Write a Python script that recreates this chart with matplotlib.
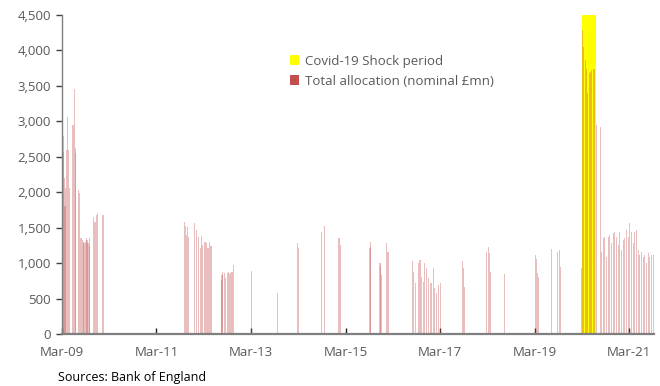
import matplotlib
matplotlib.use("Agg")
import matplotlib.pyplot as plt
import matplotlib.dates as mdates
from matplotlib.patches import Patch
from matplotlib.ticker import FuncFormatter
import pandas as pd

plt.rcParams['font.family'] = ['Open Sans', 'DejaVu Sans']

# weekly gilt purchase allocations (nominal £mn)
alloc_dates = [
    # QE1 2009
    '2009-03-09', '2009-03-14', '2009-03-19', '2009-03-24', '2009-03-28',
    '2009-04-05', '2009-04-13', '2009-04-19', '2009-04-26',
    '2009-05-25', '2009-06-02', '2009-06-10', '2009-06-14',
    '2009-07-03', '2009-07-14', '2009-07-26', '2009-08-03', '2009-08-11',
    '2009-08-18', '2009-08-26', '2009-09-03', '2009-09-10', '2009-09-18',
    '2009-09-26', '2009-10-03', '2009-11-03', '2009-11-11', '2009-11-19',
    '2009-11-27', '2010-01-12',
    # QE2 2011-12
    '2011-10-06', '2011-10-12', '2011-10-20', '2011-10-27', '2011-11-03',
    '2011-12-23', '2012-01-07', '2012-01-22', '2012-02-03', '2012-02-10',
    '2012-02-22', '2012-03-10', '2012-03-21', '2012-04-02', '2012-04-13',
    '2012-04-25',
    # QE3 2012
    '2012-07-12', '2012-07-19', '2012-07-26', '2012-08-09', '2012-08-16',
    '2012-08-30', '2012-09-06', '2012-09-13', '2012-09-20', '2012-10-04',
    '2012-10-11', '2012-10-18',
    # reinvestments
    '2013-03-05', '2013-09-20', '2014-02-24', '2014-03-03',
    '2014-08-28', '2014-09-17', '2015-01-09', '2015-01-24',
    '2015-08-30', '2015-09-06', '2015-09-13',
    '2015-11-22', '2015-11-29', '2015-12-06', '2016-01-08', '2016-01-23',
    # QE4 2016-17
    '2016-07-31', '2016-08-05', '2016-08-23', '2016-09-12', '2016-09-26',
    '2016-10-09', '2016-10-21', '2016-11-03', '2016-11-16', '2016-11-29',
    '2016-12-20', '2017-01-06', '2017-01-19', '2017-02-01', '2017-02-14',
    '2017-03-04',
    '2017-08-21', '2017-08-28', '2017-09-05',
    '2018-02-25', '2018-03-06', '2018-03-15', '2018-03-26', '2018-07-09',
    '2019-03-08', '2019-03-15', '2019-03-25', '2019-04-02', '2019-07-10',
    '2019-08-28', '2019-09-07', '2019-09-20',
    # Covid-19 QE5 and after
    '2020-02-28', '2020-03-05', '2020-03-15', '2020-03-25', '2020-04-05',
    '2020-04-15', '2020-04-25', '2020-05-06', '2020-05-16', '2020-05-26',
    '2020-06-06', '2020-06-22', '2020-07-22',
    '2020-07-30', '2020-08-12', '2020-08-25', '2020-09-07', '2020-09-20',
    '2020-10-02', '2020-10-15', '2020-10-28', '2020-11-10', '2020-11-23',
    '2020-12-05', '2020-12-18', '2020-12-31', '2021-01-13', '2021-01-26',
    '2021-02-08', '2021-02-21', '2021-03-06', '2021-03-19', '2021-03-31',
    '2021-04-13', '2021-04-26', '2021-05-09', '2021-05-22', '2021-06-04',
    '2021-06-17', '2021-06-30', '2021-07-13', '2021-07-26', '2021-08-07',
    '2021-08-20', '2021-09-02',
]
alloc_values = [
    2800, 2570, 2200, 1800, 2060,
    2590, 3060, 2600, 2060,
    2950, 3460, 2620, 2560,
    2030, 1985, 1350, 1320, 1300,
    1290, 1300, 1360, 1330, 1280,
    1240, 1350, 1650, 1580, 1680,
    1700, 1680,
    1584, 1523, 1396, 1513, 1368,
    1565, 1466, 1372, 1212, 1382,
    1255, 1302, 1283, 1212, 1302,
    1245,
    761, 832, 879, 860, 790,
    860, 879, 850, 860, 880,
    880, 973,
    888, 573, 1278, 1212,
    1443, 1523, 1349, 1255,
    1212, 1302, 1231,
    997, 959, 832, 1287, 1160,
    1030, 879, 725, 997, 1043,
    800, 737, 1006, 926, 785,
    725, 926, 645, 573, 691,
    714,
    1030, 926, 668,
    1160, 1231, 1137, 879, 846,
    1113, 1052, 865, 808, 1193,
    1160, 1184, 949,
    930, 4286, 4051, 3872, 3745,
    3394, 3675, 3698, 3722, 3732,
    3745, 2947, 2923,
    1160, 1349, 1372, 1090, 1372,
    1396, 1278, 1420, 1443, 1372,
    1255, 1443, 1184, 1325, 1349,
    1466, 1372, 1561, 1443, 1278,
    1443, 1466, 1184, 1114, 1160,
    1090, 1114, 997, 1137, 1090,
    1114, 1114,
]

covid_start = '2020-02-27'
covid_end = '2020-06-14'
covid_height = 4500

x_ticks = ['2009-03-01', '2011-03-01', '2013-03-01', '2015-03-01',
           '2017-03-01', '2019-03-01', '2021-03-01']
x_labels = ['Mar-09', 'Mar-11', 'Mar-13', 'Mar-15', 'Mar-17', 'Mar-19', 'Mar-21']

red = '#c0504d'
grey = '#595959'

fig = plt.figure(figsize=(6.6, 3.86), dpi=100)
ax = fig.add_axes([62 / 660, 1 - 334 / 386, 592 / 660, 319 / 386])

cs = pd.Timestamp(covid_start)
ce = pd.Timestamp(covid_end)
ax.bar(mdates.date2num(cs), covid_height, width=(ce - cs).days, align='edge',
       color='#ffff00', linewidth=0, zorder=1)

xd = mdates.date2num(pd.to_datetime(alloc_dates))
ax.bar(xd, alloc_values, width=8.2, color=red, alpha=0.36, linewidth=0,
       antialiased=False, zorder=2)

ax.set_xlim(mdates.date2num(pd.Timestamp('2009-03-01')),
            mdates.date2num(pd.Timestamp('2021-09-08')))
ax.set_ylim(0, 4500)
ax.set_yticks(range(0, 4501, 500))
ax.yaxis.set_major_formatter(FuncFormatter(lambda v, p: f'{int(v):,}'))
ax.set_xticks(mdates.date2num(pd.to_datetime(x_ticks)))
ax.set_xticklabels(x_labels)

for s in ['top', 'right']:
    ax.spines[s].set_visible(False)
ax.spines['left'].set_color('#7f7f7f')
ax.spines['left'].set_linewidth(1.0)
ax.spines['bottom'].set_color('#7f7f7f')
ax.spines['bottom'].set_linewidth(1.6)
ax.spines['bottom'].set_zorder(3)

ax.tick_params(axis='y', direction='out', length=4, width=1, color='#404040',
               labelsize=9.5, labelcolor=grey, pad=4)
ax.tick_params(axis='x', direction='in', length=4, width=1, color='#202020',
               labelsize=9.5, labelcolor=grey, pad=9)

handles = [Patch(facecolor='#ffff00', edgecolor='none', label='Covid-19 Shock period'),
           Patch(facecolor=red, edgecolor='none', label='Total allocation (nominal £mn)')]
fig.legend(handles=handles, loc='upper left', bbox_to_anchor=(283 / 660, 1 - 48 / 386),
           frameon=False, fontsize=9.5, handlelength=0.75, handleheight=0.75,
           handletextpad=0.4, labelspacing=0.55, labelcolor=grey, borderpad=0)

fig.text(58 / 660, 1 - 378 / 386, 'Sources: Bank of England', fontsize=9,
         color='#000000', va='center', ha='left')

plt.savefig('out.png', dpi=100)
